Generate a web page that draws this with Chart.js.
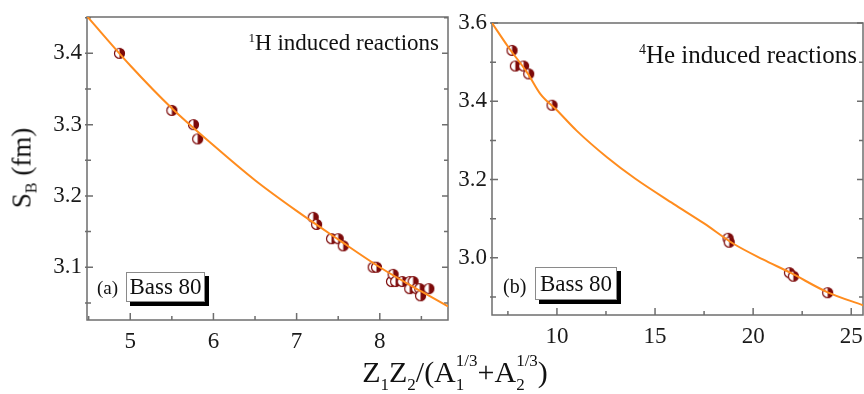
<!DOCTYPE html>
<html>
<head>
<meta charset="utf-8">
<script src="https://cdn.jsdelivr.net/npm/chart.js@4.4.0/dist/chart.umd.min.js"></script>
<style>
  body { margin: 0; background: #fff; }
  #wrap { position: relative; width: 864px; height: 394px; overflow: hidden; font-family: "Liberation Serif", serif; color: #111; }
  canvas { position: absolute; top: 0; }
  .txt { position: absolute; white-space: nowrap; line-height: 1; }
  .box { position: absolute; background: #fff; border: 1px solid #8a8a8a; box-shadow: 4px 4px 0 #000;
         display: flex; align-items: center; justify-content: center; font-size: 23px; box-sizing: border-box; }
  .lo { font-size: 17px; vertical-align: -8px; }
  .ss { display: inline-block; font-size: 17px; line-height: 24px; vertical-align: -8px; }
  .ss span { display: block; }
</style>
</head>
<body>
<div id="wrap">
  <canvas id="chartH" width="455" height="394" style="left:0"></canvas>
  <canvas id="chartHe" width="409" height="394" style="left:455px"></canvas>

  <div class="txt" style="left:24px; top:168px; font-size:27px; transform: translate(-50%,-50%) rotate(-90deg);">S<span style="font-size:16px; vertical-align:-6px">B</span> (fm)</div>
  <div class="txt" style="left:455px; top:349px; font-size:30px; transform: translateX(-50%);">Z<span class="lo">1</span>Z<span class="lo">2</span>/(A<span class="ss"><span>1/3</span><span>1</span></span>+A<span class="ss"><span>1/3</span><span>2</span></span>)</div>

  <div class="txt" style="right:425px; top:31px; font-size:23px;"><span style="font-size:13px; vertical-align:8px">1</span>H induced reactions</div>
  <div class="txt" style="right:7px; top:42px; font-size:25px;"><span style="font-size:14px; vertical-align:9px">4</span>He induced reactions</div>

  <div class="txt" style="left:97px; top:278px; font-size:19px;">(a)</div>
  <div class="box" style="left:126px; top:272px; width:79px; height:30px;">Bass 80</div>
  <div class="txt" style="left:503px; top:276px; font-size:20px;">(b)</div>
  <div class="box" style="left:535px; top:267px; width:82px; height:33px;">Bass 80</div>
</div>
<script>
// 1H induced reactions
const hX = [4.87, 5.50, 5.76, 5.81, 7.20, 7.24, 7.42, 7.50, 7.56, 7.92, 7.96, 8.14, 8.16, 8.19, 8.27, 8.36, 8.36, 8.40, 8.44, 8.48, 8.49, 8.59];
const hY = [3.40, 3.32, 3.30, 3.28, 3.17, 3.16, 3.14, 3.14, 3.13, 3.10, 3.10, 3.08, 3.09, 3.08, 3.08, 3.08, 3.07, 3.08, 3.07, 3.07, 3.06, 3.07];
const hFitX = [4.48, 5.0, 5.5, 6.0, 6.5, 7.0, 7.5, 8.0, 8.5, 8.82];
const hFitY = [3.452, 3.383, 3.323, 3.271, 3.222, 3.179, 3.139, 3.100, 3.066, 3.045];
const hXTicks = [5, 6, 7, 8];
const hXMinor = [4.5, 5.5, 6.5, 7.5, 8.5];
const hYTicks = [3.1, 3.2, 3.3, 3.4];
const hYMinor = [3.05, 3.15, 3.25, 3.35, 3.45];

// 4He induced reactions
const heX = [7.71, 7.88, 8.30, 8.56, 9.75, 18.72, 18.78, 21.85, 22.05, 23.80];
const heY = [3.53, 3.49, 3.49, 3.47, 3.39, 3.05, 3.04, 2.962, 2.953, 2.911];
const heFitX = [6.69, 7.5, 8.5, 9.15, 10, 11, 12.55, 14, 15.94, 17.5, 19, 20.5, 21.9, 23.8, 25.6];
const heFitY = [3.600, 3.540, 3.472, 3.419, 3.377, 3.325, 3.257, 3.202, 3.138, 3.088, 3.036, 2.996, 2.962, 2.912, 2.879];
const heXTicks = [10, 15, 20, 25];
const heXMinor = [7.5, 12.5, 17.5, 22.5];
const heYTicks = [3.0, 3.2, 3.4, 3.6];
const heYMinor = [2.9, 3.1, 3.3, 3.5];

const red = "#7d0a0a";
const orange = "#ff8c1e";

// half open / half filled circle marker
const marker = document.createElement("canvas");
marker.width = 13;
marker.height = 13;
(function () {
    const c = marker.getContext("2d");
    c.beginPath();
    c.arc(6.5, 6.5, 5, 0, Math.PI * 2);
    c.fillStyle = "#fff";
    c.fill();
    c.beginPath();
    c.moveTo(6.5, 1.5);
    c.arc(6.5, 6.5, 5, -Math.PI / 2, Math.PI / 2);
    c.closePath();
    c.fillStyle = red;
    c.fill();
    c.beginPath();
    c.arc(6.5, 6.5, 5, 0, Math.PI * 2);
    c.strokeStyle = red;
    c.lineWidth = 1.2;
    c.stroke();
})();

// box around the plot with inward ticks
const frame = {
    id: "frame",
    beforeDatasetsDraw(chart, args, opts) {
        const { ctx, chartArea: a, scales } = chart;
        const x = scales.x, y = scales.y;
        ctx.save();
        ctx.strokeStyle = "#6e6e6e";
        ctx.lineWidth = 1.5;
        ctx.strokeRect(a.left, a.top, a.width, a.height);
        ctx.beginPath();
        const xt = (v, len) => {
            const p = x.getPixelForValue(v);
            ctx.moveTo(p, a.bottom);
            ctx.lineTo(p, a.bottom - len);
        };
        const yt = (v, len) => {
            const p = y.getPixelForValue(v);
            ctx.moveTo(a.left - 2, p);
            ctx.lineTo(a.left + len, p);
            ctx.moveTo(a.right, p);
            ctx.lineTo(a.right - len, p);
        };
        x.ticks.forEach(t => xt(t.value, 7));
        opts.xMinor.forEach(v => xt(v, 4));
        y.ticks.forEach(t => yt(t.value, 6));
        opts.yMinor.forEach(v => yt(v, 4));
        ctx.stroke();
        ctx.restore();
    },
};

function makeChart(id, px, py, fx, fy, xr, yr, xTicks, yTicks, xMinor, yMinor, pad, yWidth, xHeight) {
    const tickFont = { family: "'Liberation Serif', serif", size: 23 };
    const noGrid = { display: false, drawTicks: false, tickLength: 0 };
    return new Chart(document.getElementById(id), {
        type: "scatter",
        data: {
            datasets: [
                {
                    type: "line",
                    data: fx.map((v, i) => ({ x: v, y: fy[i] })),
                    borderColor: orange,
                    borderWidth: 2,
                    pointRadius: 0,
                    fill: false,
                    cubicInterpolationMode: "monotone",
                },
                {
                    data: px.map((v, i) => ({ x: v, y: py[i] })),
                    pointStyle: marker,
                    pointRadius: 6,
                },
            ],
        },
        plugins: [frame],
        options: {
            responsive: false,
            animation: false,
            devicePixelRatio: 1,
            layout: { padding: pad, autoPadding: false },
            plugins: {
                legend: { display: false },
                tooltip: { enabled: false },
                frame: { xMinor: xMinor, yMinor: yMinor },
            },
            scales: {
                x: {
                    type: "linear",
                    min: xr[0],
                    max: xr[1],
                    grid: noGrid,
                    border: { display: false },
                    afterBuildTicks: s => { s.ticks = xTicks.map(v => ({ value: v })); },
                    afterFit: s => { s.height = xHeight; s.paddingLeft = 0; s.paddingRight = 0; },
                    ticks: { font: tickFont, color: "#1a1a1a", padding: 8, maxRotation: 0, autoSkip: false, includeBounds: false },
                },
                y: {
                    type: "linear",
                    min: yr[0],
                    max: yr[1],
                    grid: noGrid,
                    border: { display: false },
                    afterBuildTicks: s => { s.ticks = yTicks.map(v => ({ value: v })); },
                    afterFit: s => { s.width = yWidth; s.paddingTop = 0; s.paddingBottom = 0; },
                    ticks: { font: tickFont, color: "#1a1a1a", padding: 5, autoSkip: false, includeBounds: false,
                             callback: v => v.toFixed(1) },
                },
            },
        },
    });
}

window.chartH = makeChart("chartH", hX, hY, hFitX, hFitY, [4.48, 8.82], [3.026, 3.451],
    hXTicks, hYTicks, hXMinor, hYMinor, { left: 0, top: 17, right: 7, bottom: 0 }, 87, 74);
window.chartHe = makeChart("chartHe", heX, heY, heFitX, heFitY, [6.69, 25.6], [2.854, 3.6],
    heXTicks, heYTicks, heXMinor, heYMinor, { left: 0, top: 23, right: 1, bottom: 0 }, 37, 79);
</script>
</body>
</html>
